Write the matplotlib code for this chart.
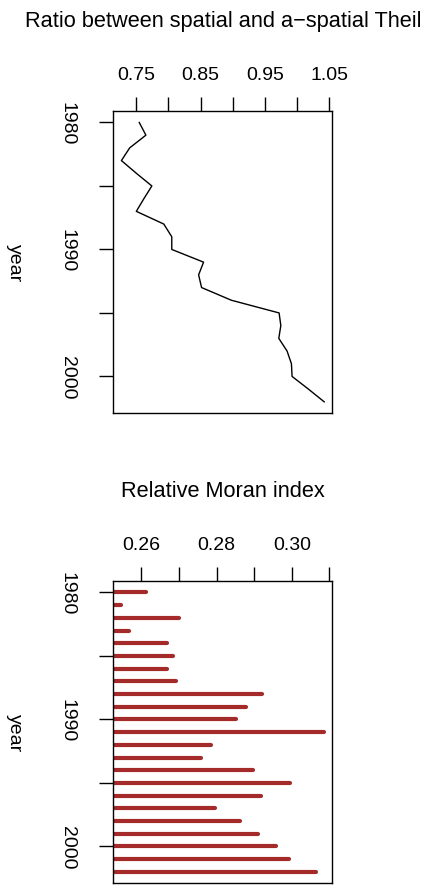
import matplotlib

matplotlib.use('Agg')
import matplotlib.pyplot as plt

# yearly series, 1980-2002
years = list(range(1980, 2003))
theil_ratio = [0.7546, 0.7649, 0.7397, 0.7268, 0.7500, 0.7742, 0.7618, 0.7500,
               0.7928, 0.8052, 0.8052, 0.8547, 0.8470, 0.8516, 0.8980, 0.9723,
               0.9750, 0.9718, 0.9847, 0.9915, 0.9925, 1.0180, 1.0425]
moran_rel = [0.2612, 0.2547, 0.2700, 0.2568, 0.2668, 0.2685, 0.2667, 0.2692,
             0.2921, 0.2878, 0.2852, 0.3086, 0.2786, 0.2759, 0.2898, 0.2994,
             0.2917, 0.2795, 0.2862, 0.2911, 0.2959, 0.2993, 0.3064]

theil_ticks = [0.75, 0.80, 0.85, 0.90, 0.95, 1.00, 1.05]
theil_labels = ['0.75', '', '0.85', '', '0.95', '', '1.05']
moran_ticks = [0.26, 0.27, 0.28, 0.29, 0.30, 0.31]
moran_labels = ['0.26', '', '0.28', '', '0.30', '']
year_ticks = [1980, 1985, 1990, 1995, 2000]
year_labels = ['1980', '', '1990', '', '2000']

plt.rcParams['font.family'] = ['Liberation Sans', 'DejaVu Sans']
plt.rcParams['font.size'] = 14

W, H = 439, 887
fig = plt.figure(figsize=(W / 100, H / 100), dpi=100)


def r_lim(vals):
    # R-style 4% padding on each side
    lo, hi = min(vals), max(vals)
    d = (hi - lo) * 0.04
    return lo - d, hi + d


def style_axes(ax, xticks, xlabels, title, title_y):
    ax.set_ylim(*r_lim(years)[::-1])
    ax.xaxis.tick_top()
    ax.set_xticks(xticks)
    ax.set_xticklabels(xlabels)
    ax.set_yticks(year_ticks)
    ax.set_yticklabels(year_labels, rotation=-90, va='center')
    ax.tick_params(axis='x', direction='out', length=10, width=1, pad=10.5)
    ax.tick_params(axis='y', direction='out', length=10, width=1, pad=17)
    for s in ax.spines.values():
        s.set_linewidth(1)
    bb = ax.get_position()
    fig.text((bb.x0 + bb.x1) / 2, 1 - title_y / H, title, ha='center',
             va='baseline', fontsize=15.7)
    fig.text(14 / W, (bb.y0 + bb.y1) / 2, 'year', rotation=-90,
             ha='center', va='center', fontsize=14)


# top panel: Theil ratio line
ax1 = fig.add_axes([113.3 / W, 1 - 414 / H, 219 / W, 301.7 / H])
ax1.plot(theil_ratio, years, color='black', lw=1)
ax1.set_xlim(*r_lim(theil_ratio))
style_axes(ax1, theil_ticks, theil_labels,
           'Ratio between spatial and a\u2212spatial Theil', 27.3)

# bottom panel: relative Moran index as horizontal bars
ax2 = fig.add_axes([113.3 / W, 1 - 884 / H, 219 / W, 301.7 / H])
lo, hi = r_lim(moran_rel)
ax2.hlines(years, lo - 0.01, moran_rel, color='#A52A2A', lw=3,
           capstyle='round')
ax2.set_xlim(lo, hi)
style_axes(ax2, moran_ticks, moran_labels, 'Relative Moran index', 497.3)

fig.savefig('out.png', dpi=100)
